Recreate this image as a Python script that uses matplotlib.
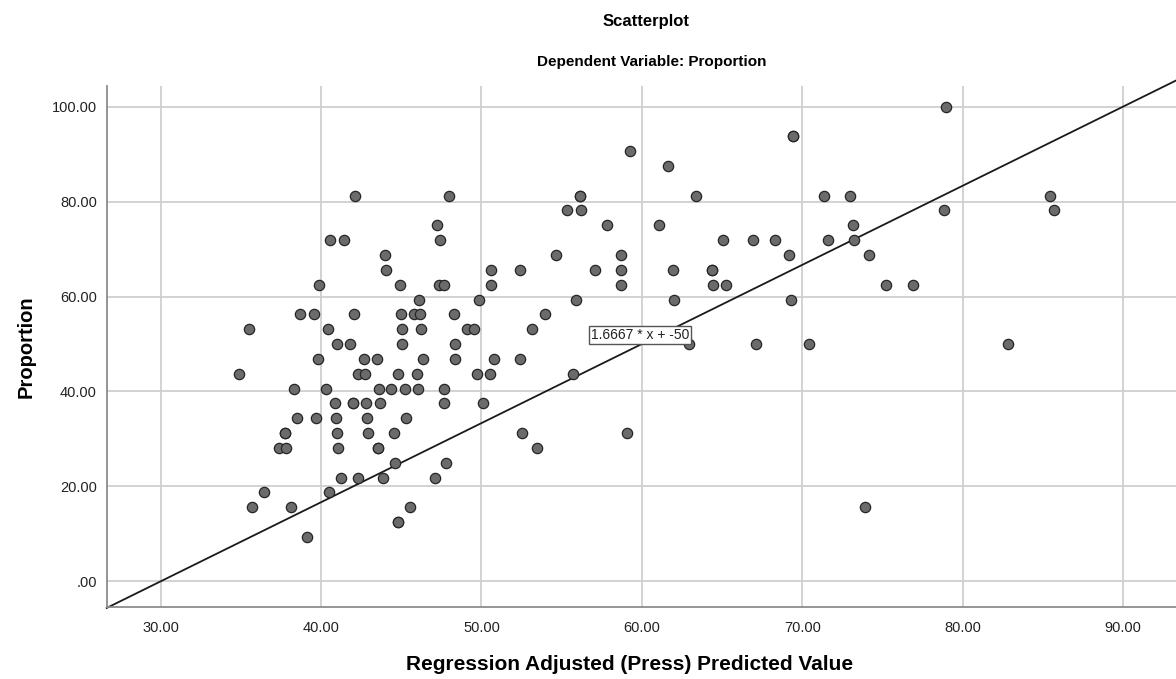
import matplotlib
matplotlib.use("Agg")
import matplotlib.pyplot as plt
from matplotlib.ticker import FuncFormatter

plt.rcParams['font.family'] = ['Liberation Sans', 'DejaVu Sans']

# adjusted (press) predicted values and observed proportion
pred = [42.10, 47.97, 47.23, 40.57, 41.42, 47.39, 43.99, 44.03, 50.62, 39.89,
        44.93, 47.37, 47.68, 50.62, 46.08, 49.84, 38.72, 39.55, 42.04, 44.99,
        45.80, 46.17, 48.28, 35.49, 40.45, 45.03, 46.21, 49.11, 49.53, 40.98,
        41.82, 45.05, 48.36,
        39.80, 42.68, 43.51, 46.35, 48.36, 50.79,
        34.91, 42.29, 42.75, 44.82, 46.00, 49.73, 50.54,
        38.31, 40.34, 43.60, 44.38, 45.21, 46.02, 47.66,
        40.86, 42.02, 42.02, 42.83, 43.66, 47.68, 50.11,
        38.48, 39.68, 40.92, 42.87, 45.32,
        37.73, 37.73, 40.98, 42.94, 44.55,
        37.36, 37.84, 41.07, 43.53, 43.53,
        44.63, 47.82,
        41.26, 42.31, 43.89, 47.08,
        36.42, 40.47,
        35.72, 38.15, 45.57,
        44.82, 44.82,
        39.12,
        69.45, 69.45, 59.25, 61.65,
        56.16, 56.16, 63.35, 71.35, 72.97,
        55.35, 56.18,
        57.86, 61.09, 73.16,
        65.07, 66.96, 68.31, 71.58, 73.24,
        54.65, 58.69, 69.20, 74.17,
        52.43, 57.09, 58.71, 61.94, 64.39, 64.39,
        58.73, 64.43, 65.22,
        55.89, 62.03, 69.30,
        53.96, 53.17,
        62.92, 67.10, 70.44,
        52.42, 55.70,
        52.55, 59.08, 53.48, 73.94,
        78.98, 85.47, 85.70, 78.84, 75.23, 76.93, 82.80]

prop = [81.25, 81.25, 75.0, 71.875, 71.875, 71.875, 68.75, 65.625, 65.625, 62.5,
        62.5, 62.5, 62.5, 62.5, 59.375, 59.375, 56.25, 56.25, 56.25, 56.25,
        56.25, 56.25, 56.25, 53.125, 53.125, 53.125, 53.125, 53.125, 53.125, 50.0,
        50.0, 50.0, 50.0,
        46.875, 46.875, 46.875, 46.875, 46.875, 46.875,
        43.75, 43.75, 43.75, 43.75, 43.75, 43.75, 43.75,
        40.625, 40.625, 40.625, 40.625, 40.625, 40.625, 40.625,
        37.5, 37.5, 37.5, 37.5, 37.5, 37.5, 37.5,
        34.375, 34.375, 34.375, 34.375, 34.375,
        31.25, 31.25, 31.25, 31.25, 31.25,
        28.125, 28.125, 28.125, 28.125, 28.125,
        25.0, 25.0,
        21.875, 21.875, 21.875, 21.875,
        18.75, 18.75,
        15.625, 15.625, 15.625,
        12.5, 12.5,
        9.375,
        93.75, 93.75, 90.625, 87.5,
        81.25, 81.25, 81.25, 81.25, 81.25,
        78.125, 78.125,
        75.0, 75.0, 75.0,
        71.875, 71.875, 71.875, 71.875, 71.875,
        68.75, 68.75, 68.75, 68.75,
        65.625, 65.625, 65.625, 65.625, 65.625, 65.625,
        62.5, 62.5, 62.5,
        59.375, 59.375, 59.375,
        56.25, 53.125,
        50.0, 50.0, 50.0,
        46.875, 43.75,
        31.25, 31.25, 28.125, 15.625,
        100.0, 81.25, 78.125, 78.125, 62.5, 62.5, 50.0]

# reference line y = slope * x + intercept
slope = 1.6667
intercept = -50
x_ticks = [30, 40, 50, 60, 70, 80, 90]
y_ticks = [0, 20, 40, 60, 80, 100]

fig = plt.figure(figsize=(11.76, 6.79), dpi=100)
ax = fig.add_axes([0.0907, 0.106, 0.9093, 0.767])

xmin, xmax = 26.64, 93.3
ymin, ymax = -5.4, 104.3
ax.set_xlim(xmin, xmax)
ax.set_ylim(ymin, ymax)

ax.set_xticks(x_ticks)
ax.set_yticks(y_ticks)
fmt = FuncFormatter(lambda v, p: ".00" if v == 0 else "%.2f" % v)
ax.xaxis.set_major_formatter(fmt)
ax.yaxis.set_major_formatter(fmt)
ax.tick_params(length=0, labelsize=10.5, colors="#222222")
ax.tick_params(axis="x", pad=10)
ax.tick_params(axis="y", pad=7)
ax.grid(True, color="#cfcfcf", linewidth=1.3)
ax.set_axisbelow(True)

for s in ["top", "right"]:
    ax.spines[s].set_visible(False)
for s in ["left", "bottom"]:
    ax.spines[s].set_color("#8c8c8c")
    ax.spines[s].set_linewidth(1.3)

lx = [xmin, xmax]
ly = [slope * v + intercept for v in lx]
ax.plot(lx, ly, color="#1a1a1a", linewidth=1.3, zorder=2, clip_on=False)

ax.scatter(pred, prop, s=55, facecolor="#6b6b6b", edgecolor="#262626",
           linewidth=0.9, zorder=3)

ax.text(59.87, 51.9, "1.6667 * x + -50", ha="center", va="center",
        fontsize=10, color="#222222", zorder=4,
        bbox=dict(boxstyle="square,pad=0.12", facecolor="white",
                  edgecolor="#555555", linewidth=1))

fig.text(0.549, 0.969, "Scatterplot", ha="center", va="center",
         fontsize=12, fontweight="bold")
fig.text(0.554, 0.908, "Dependent Variable: Proportion", ha="center",
         va="center", fontsize=11, fontweight="bold")
xl = ax.set_xlabel("Regression Adjusted (Press) Predicted Value", fontsize=15,
                   fontweight="bold")
xl.set_va("center")
ax.xaxis.set_label_coords(0.489, -0.111)
ax.set_ylabel("Proportion", fontsize=14.5, fontweight="bold", labelpad=12)

fig.savefig("out.png", dpi=100)
